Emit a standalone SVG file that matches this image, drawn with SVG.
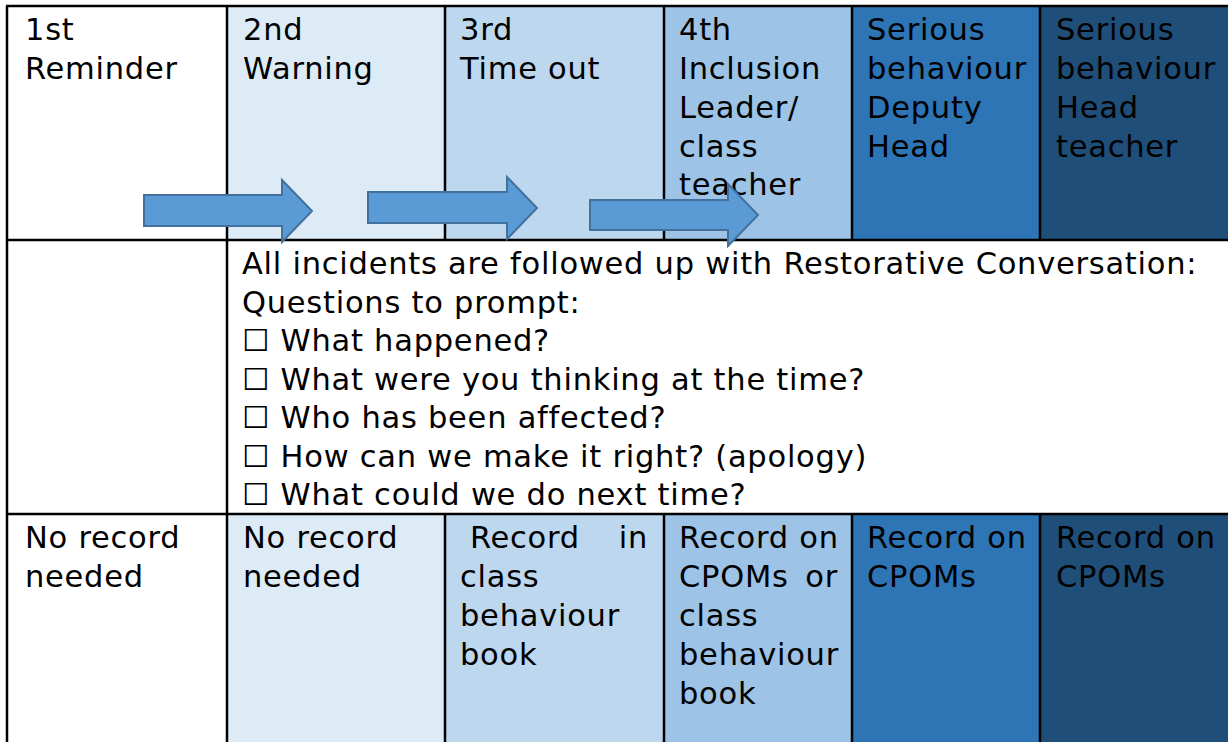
<svg xmlns="http://www.w3.org/2000/svg" width="1228" height="742" viewBox="0 0 1228 742">
<style>
text{font-family:"DejaVu Sans","Verdana",sans-serif;font-size:30.5px;letter-spacing:0.75px;fill:#000}
.grid{stroke:#000;stroke-width:2.5;fill:none}
.arrow{fill:#5B9BD5;stroke:#41719C;stroke-width:2}
</style>
<rect width="1228" height="742" fill="#fff"/>
<g id="fills">
<rect x="227" y="6" width="218" height="234" fill="#DDEBF7"/>
<rect x="445" y="6" width="219" height="234" fill="#BDD7EE"/>
<rect x="664" y="6" width="188" height="234" fill="#9DC3E6"/>
<rect x="852" y="6" width="188" height="234" fill="#2E75B6"/>
<rect x="1040" y="6" width="188" height="234" fill="#1F4E79"/>
<rect x="227" y="514" width="218" height="228" fill="#DDEBF7"/>
<rect x="445" y="514" width="219" height="228" fill="#BDD7EE"/>
<rect x="664" y="514" width="188" height="228" fill="#9DC3E6"/>
<rect x="852" y="514" width="188" height="228" fill="#2E75B6"/>
<rect x="1040" y="514" width="188" height="228" fill="#1F4E79"/>
</g>
<g id="gridlines" class="grid">
<line x1="6" y1="6" x2="1228" y2="6"/>
<line x1="6" y1="240" x2="1228" y2="240"/>
<line x1="6" y1="514" x2="1228" y2="514"/>
<line x1="7" y1="6" x2="7" y2="742"/>
<line x1="227" y1="6" x2="227" y2="742"/>
<line x1="445" y1="6" x2="445" y2="240"/>
<line x1="445" y1="514" x2="445" y2="742"/>
<line x1="664" y1="6" x2="664" y2="240"/>
<line x1="664" y1="514" x2="664" y2="742"/>
<line x1="852" y1="6" x2="852" y2="240"/>
<line x1="852" y1="514" x2="852" y2="742"/>
<line x1="1040" y1="6" x2="1040" y2="240"/>
<line x1="1040" y1="514" x2="1040" y2="742"/>
</g>
<g id="row1">
<g id="c1-1"><text x="25" y="40">1st</text><text x="25" y="79">Reminder</text></g>
<g id="c2-1"><text x="243" y="40">2nd</text><text x="243" y="79">Warning</text></g>
<g id="c3-1"><text x="460" y="40">3rd</text><text x="460" y="79">Time out</text></g>
<g id="c4-1"><text x="679" y="40">4th</text><text x="679" y="79">Inclusion</text><text x="679" y="118">Leader/</text><text x="679" y="157">class</text><text x="679" y="195">teacher</text></g>
<g id="c5-1"><text x="867" y="40">Serious</text><text x="867" y="79">behaviour</text><text x="867" y="118">Deputy</text><text x="867" y="157">Head</text></g>
<g id="c6-1"><text x="1056" y="40">Serious</text><text x="1056" y="79">behaviour</text><text x="1056" y="118">Head</text><text x="1056" y="157">teacher</text></g>
</g>
<g id="row2">
<text x="242" y="274">All incidents are followed up with Restorative Conversation:</text>
<text x="242" y="313">Questions to prompt:</text>
<text x="242" y="351">☐ What happened?</text>
<text x="242" y="390">☐ What were you thinking at the time?</text>
<text x="242" y="428">☐ Who has been affected?</text>
<text x="242" y="467">☐ How can we make it right? (apology)</text>
<text x="242" y="505">☐ What could we do next time?</text>
</g>
<g id="row3">
<g id="c1-3"><text x="25" y="548">No record</text><text x="25" y="587">needed</text></g>
<g id="c2-3"><text x="243" y="548">No record</text><text x="243" y="587">needed</text></g>
<g id="c3-3"><text x="470" y="548">Record</text><text x="648" y="548" text-anchor="end">in</text><text x="460" y="587">class</text><text x="460" y="626">behaviour</text><text x="460" y="665">book</text></g>
<g id="c4-3"><text x="679" y="548">Record on</text><text x="679" y="587">CPOMs</text><text x="838" y="587" text-anchor="end">or</text><text x="679" y="626">class</text><text x="679" y="665">behaviour</text><text x="679" y="704">book</text></g>
<g id="c5-3"><text x="867" y="548">Record on</text><text x="867" y="587">CPOMs</text></g>
<g id="c6-3"><text x="1056" y="548">Record on</text><text x="1056" y="587">CPOMs</text></g>
</g>
<g id="connectors">
<polygon class="arrow" points="144,195 282,195 282,180 312,211 282,242 282,226 144,226"/>
<polygon class="arrow" points="368,192 507,192 507,177 537,208 507,239 507,223 368,223"/>
<polygon class="arrow" points="590,200 728,200 728,184 758,215 728,246 728,230 590,230"/>
</g>
</svg>
